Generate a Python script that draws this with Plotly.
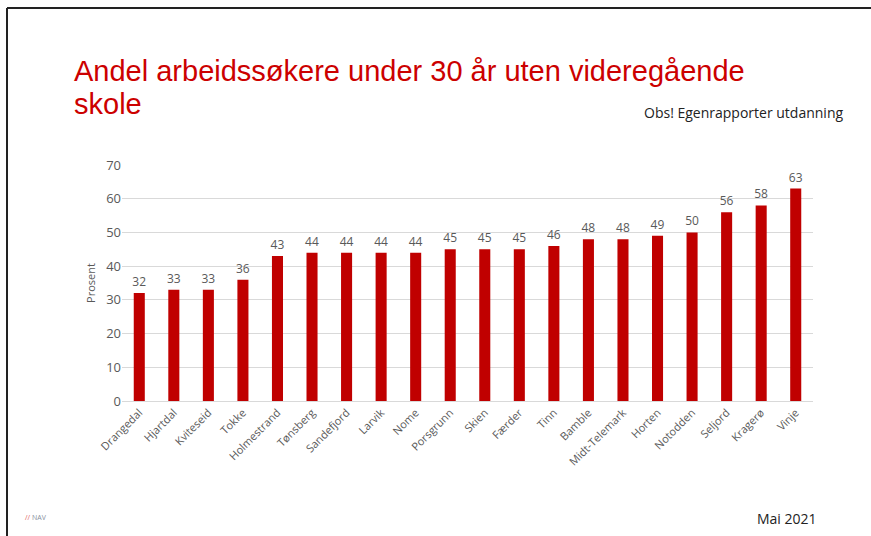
import plotly.graph_objects as go

kommuner = ["Drangedal", "Hjartdal", "Kviteseid", "Tokke", "Holmestrand", "Tønsberg",
            "Sandefjord", "Larvik", "Nome", "Porsgrunn", "Skien", "Færder", "Tinn",
            "Bamble", "Midt-Telemark", "Horten", "Notodden", "Seljord", "Kragerø", "Vinje"]
prosent = [32, 33, 33, 36, 43, 44, 44, 44, 44, 45, 45, 45, 46, 48, 48, 49, 50, 56, 58, 63]
y_ticks = [0, 10, 20, 30, 40, 50, 60, 70]

grey = "#595959"
W, H = 871, 536
L, R, T, B = 122, 58, 165, 135


def px(x):
    return (x - L) / (W - L - R)


def py(y):
    return (H - B - y) / (H - T - B)


fig = go.Figure()
fig.add_trace(go.Bar(
    x=kommuner,
    y=prosent,
    marker=dict(color="#C00000", line=dict(width=0)),
    text=prosent,
    textposition="outside",
    constraintext="none",
    cliponaxis=False,
    textfont=dict(family="Open Sans", size=12, color=grey),
))

title_font = dict(family="Liberation Sans", size=29, color="#CC0000")

fig.update_layout(
    width=W,
    height=H,
    margin=dict(l=L, r=R, t=T, b=B),
    paper_bgcolor="white",
    plot_bgcolor="white",
    showlegend=False,
    bargap=0.68,
    xaxis=dict(
        tickangle=-45,
        tickfont=dict(family="Open Sans", size=11, color=grey),
        showline=True, linecolor="#d9d9d9", linewidth=1,
        showgrid=False, ticks="",
    ),
    yaxis=dict(
        range=[0, 70],
        tickvals=y_ticks,
        tickfont=dict(family="Open Sans", size=13, color=grey),
        gridcolor="#d9d9d9", gridwidth=1,
        zeroline=False, showline=False, ticks="",
        title=dict(text="Prosent", font=dict(family="Open Sans", size=11, color=grey), standoff=8),
    ),
    annotations=[
        dict(text="Andel arbeidssøkere under 30 år uten videregående", xref="paper", yref="paper",
             x=px(72), y=py(71), xanchor="left", yanchor="middle",
             showarrow=False, font=title_font),
        dict(text="skole", xref="paper", yref="paper",
             x=px(72), y=py(104), xanchor="left", yanchor="middle",
             showarrow=False, font=title_font),
        dict(text="Obs! Egenrapporter utdanning", xref="paper", yref="paper",
             x=px(845), y=py(113), xanchor="right", yanchor="middle",
             showarrow=False, font=dict(family="Open Sans", size=14, color="#222222")),
        dict(text="Mai 2021", xref="paper", yref="paper",
             x=px(819), y=py(518), xanchor="right", yanchor="middle",
             showarrow=False, font=dict(family="Open Sans", size=14, color="#222222")),
        dict(text="<span style='color:#E06060'>//</span> NAV", xref="paper", yref="paper",
             x=px(23), y=py(517), xanchor="left", yanchor="middle",
             showarrow=False, font=dict(family="Open Sans", size=7, color="#8890a0")),
    ],
    shapes=[
        dict(type="line", xref="paper", yref="paper",
             x0=px(7), x1=px(871), y0=py(8), y1=py(8),
             line=dict(color="#222222", width=2)),
        dict(type="line", xref="paper", yref="paper",
             x0=px(7), x1=px(7), y0=py(8), y1=py(536),
             line=dict(color="#222222", width=2)),
    ],
)

fig.write_html("out.html", config={"displayModeBar": False},
               post_script="document.body.style.margin='0';")
